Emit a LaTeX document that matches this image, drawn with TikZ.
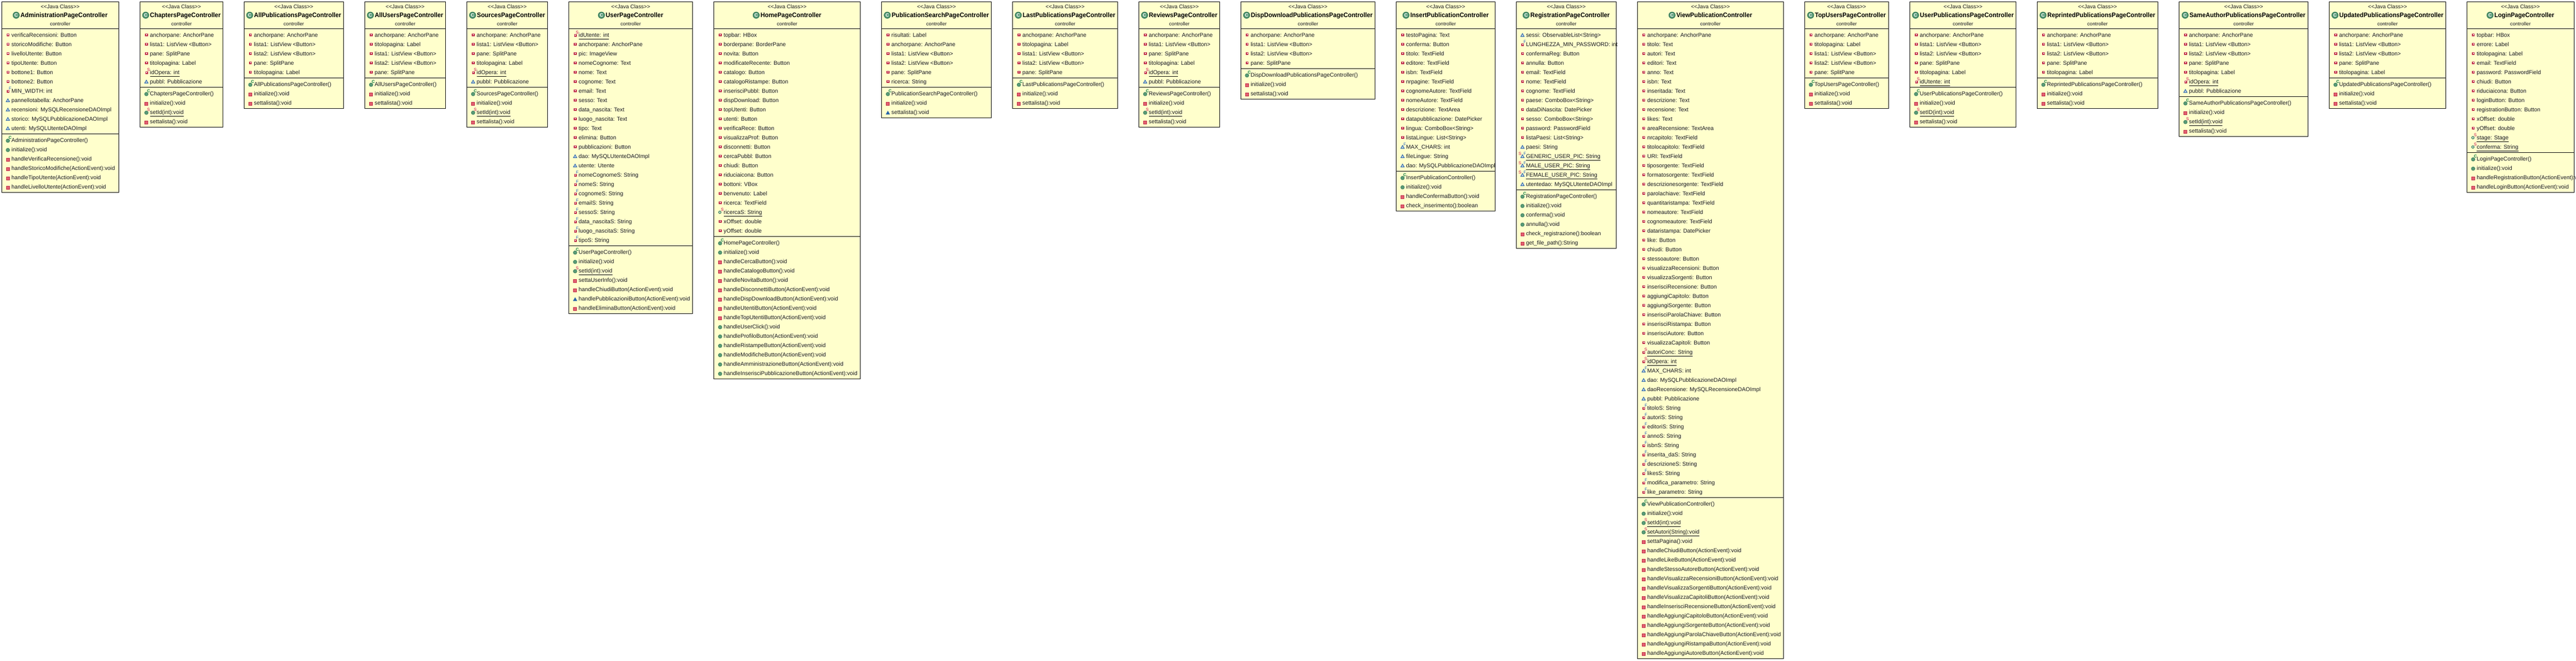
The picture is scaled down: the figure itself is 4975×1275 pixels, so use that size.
\documentclass[tikz,border=0pt]{standalone}
\usepackage{fontspec}
\usepackage{graphicx}
\setmainfont{Liberation Sans}
\definecolor{boxfill}{RGB}{255,255,204}
\definecolor{inktext}{RGB}{24,24,32}
\definecolor{privred}{RGB}{190,40,70}
\definecolor{privfill}{RGB}{226,96,112}
\definecolor{pkgblue}{RGB}{40,100,170}
\definecolor{pubgreen}{RGB}{90,155,120}
\definecolor{pubdark}{RGB}{50,120,85}
\definecolor{tagC}{RGB}{10,120,60}
\definecolor{tagS}{RGB}{200,0,70}
\definecolor{tagF}{RGB}{40,100,190}
\newcommand{\titlefont}{\fontsize{12.6}{14}\selectfont\bfseries}
\tikzset{
  classbody/.style={draw=black,line width=1pt,fill=boxfill,inner sep=0pt,outer sep=0pt,anchor=north west},
  divider/.style={draw=black,line width=1pt},
  rowtext/.style={inner sep=0pt,outer sep=0pt,anchor=base west,text=inktext,font=\fontsize{10.8}{12}\selectfont},
  stereotext/.style={inner sep=0pt,outer sep=0pt,anchor=base,text=inktext,font=\fontsize{10.4}{12}\selectfont},
  pkgtext/.style={inner sep=0pt,outer sep=0pt,anchor=base,text=inktext,font=\fontsize{9.6}{12}\selectfont},
  titletext/.style={inner sep=0pt,outer sep=0pt,anchor=base,text=black,font=\titlefont},
  classicon/.style={circle,draw=pubdark,line width=1.2pt,fill=pubgreen,minimum size=12pt,inner sep=0pt,text=white,font=\fontsize{9}{9}\selectfont\bfseries},
  tagnode/.style={inner sep=0pt,outer sep=0pt,font=\fontsize{8}{8}\selectfont},
}
\newcounter{na}\newcounter{nm}\newcounter{rw}
% field / method marks, #1 = x of the box's left edge, #2 = y of the row centre
\newcommand{\mksq}[2]{\fill[privred] (#1+9.5,#2-2.8) rectangle (#1+15,#2+2.8);\fill[white!80!pink] (#1+11.2,#2-1.1) rectangle (#1+13.3,#2+1.1);}
\newcommand{\mksmall}[2]{\fill[privred] (#1+10,#2-1.8) rectangle (#1+15,#2+3.2);\fill[white!80!pink] (#1+11.5,#2-.3) rectangle (#1+13.5,#2+1.7);}
\newcommand{\mktri}[2]{\draw[pkgblue,fill=white!70!pkgblue,line width=1pt,line join=miter] (#1+8.8,#2+3) -- (#1+15.2,#2+3) -- (#1+12,#2-2.6) -- cycle;}
\newcommand{\mktagC}[2]{\node[tagnode,text=tagC] at (#1+16.4,#2-5) {\bfseries C};}
\newcommand{\mktagS}[2]{\node[tagnode,text=tagS] at (#1+16.2,#2-4.6) {S};}
\newcommand{\mktagF}[2]{\node[tagnode,text=tagF] at (#1+16.4,#2-5) {F};}
\newcommand{\iconpf}[2]{\mksq{#1}{#2}}
\newcommand{\iconps}[2]{\mksmall{#1}{#2}\mktagS{#1}{#2}}
\newcommand{\iconpF}[2]{\mksmall{#1}{#2}\mktagF{#1}{#2}}
\newcommand{\iconkf}[2]{\mktri{#1}{#2}}
\newcommand{\iconkF}[2]{\mktri{#1}{#2}\mktagF{#1}{#2}}
\newcommand{\iconksf}[2]{\mktri{#1}{#2}\mktagF{#1}{#2}\node[tagnode,text=tagS] at (#1+7.3,#2-4.6) {S};}
\newcommand{\iconus}[2]{\draw[pubdark,fill=white!70!pubgreen,line width=1.1pt] (#1+11.5,#2+.5) circle (2.4pt);\mktagS{#1}{#2}}
\newcommand{\iconum}[2]{\draw[pubdark,fill=pubgreen,line width=.7pt] (#1+12,#2+1) circle (3.5pt);}
\newcommand{\iconpm}[2]{\draw[privred,fill=privfill,line width=.8pt] (#1+9,#2-1.7) rectangle (#1+15,#2+4.3);}
\newcommand{\iconkm}[2]{\fill[pkgblue] (#1+8,#2+4.2) -- (#1+16,#2+4.2) -- (#1+12,#2-2.8) -- cycle;}
\newcommand{\iconco}[2]{\iconum{#1}{#2}\mktagC{#1}{#2}}
\newcommand{\iconms}[2]{\iconum{#1}{#2}\mktagS{#1}{#2}}
\def\ulps{}\def\ulksf{}\def\ulus{}\def\ulms{}
\newcommand{\putrows}[3]{% #1 box id, #2 y of compartment top, #3 list; uses \xzero
  \foreach \kd/\txt [count=\ii from 0] in {#3}{%
    \stepcounter{rw}%
    \pgfmathsetmacro{\yy}{#2+12.3+18*\ii}%
    \csname icon\kd\endcsname{\xzero}{\yy}%
    \node[rowtext] (r\arabic{rw}) at (\xzero+19,\yy+3.9) {\txt};%
    \ifcsname ul\kd\endcsname
      \draw[black,line width=.8pt] ([yshift=-3.9pt]r\arabic{rw}.base west) -- ([yshift=-3.9pt]r\arabic{rw}.base east);%
    \fi
  }%
}
\newcommand{\classbox}[7]{% id, x0, x1, title, title width, fields, methods
  \setcounter{na}{0}\setcounter{nm}{0}%
  \foreach \kd/\txt in {#6}{\stepcounter{na}}%
  \foreach \kd/\txt in {#7}{\stepcounter{nm}}%
  \def\xzero{#2}%
  \pgfmathsetmacro{\yfields}{55+18*\value{na}+5.3}%
  \pgfmathsetmacro{\ybottom}{\yfields+18*\value{nm}+5.3}%
  \pgfmathsetmacro{\bw}{#3-#2}%
  \pgfmathsetmacro{\bh}{\ybottom-3.5}%
  \pgfmathsetmacro{\bc}{(#2+#3)/2}%
  \node[classbody,minimum width=\bw pt,minimum height=\bh pt] (#1) at (#2,3.5) {};%
  \draw[divider] (#2,55) -- (#3,55);%
  \draw[divider] (#2,\yfields) -- (#3,\yfields);%
  \node[stereotext] (#1-s) at (\bc,16.8) {<{}<Java Class>{}>};%
  \node[titletext] (#1-t) at (\bc,33.8) {\hspace*{14.8pt}\resizebox{#5pt}{\height}{#4}};%
  \node[classicon] (#1-i) at ([xshift=6.4pt,yshift=4.5pt]#1-t.base west) {C};%
  \node[pkgtext] (#1-p) at (\bc,49.3) {controller};%
  \putrows{#1}{55}{#6}%
  \putrows{#1}{\yfields}{#7}%
}
\begin{document}
\begin{tikzpicture}[x=1pt,y=-1pt]
\fill[white] (0,0) rectangle (4975,1275);
\useasboundingbox (0,0) rectangle (4975,1275);
\classbox{admin}{3.2}{229.3}{AdministrationPageController}{168}
{pf/verificaRecensioni: Button,pf/storicoModifiche: Button,pf/livelloUtente: Button,pf/tipoUtente: Button,pf/bottone1: Button,pf/bottone2: Button,pF/MIN\_WIDTH: int,kf/pannellotabella: AnchorPane,kf/recensioni: MySQLRecensioneDAOImpl,kf/storico: MySQLPubblicazioneDAOImpl,kf/utenti: MySQLUtenteDAOImpl}
{co/AdministrationPageController(),um/initialize():void,pm/handleVerificaRecensione():void,pm/handleStoricoModifiche(ActionEvent):void,pm/handleTipoUtente(ActionEvent):void,pm/handleLivelloUtente(ActionEvent):void}
\classbox{chapters}{270.7}{430.4}{ChaptersPageController}{136.4}
{pf/anchorpane: AnchorPane,pf/lista1: ListView <Button>,pf/pane: SplitPane,pf/titolopagina: Label,ps/idOpera: int,kf/pubbl: Pubblicazione}
{co/ChaptersPageController(),pm/initialize():void,ms/setId(int):void,pm/settalista():void}
\classbox{allpub}{471.4}{663.3}{AllPublicationsPageController}{168.3}
{pf/anchorpane: AnchorPane,pf/lista1: ListView <Button>,pf/lista2: ListView <Button>,pf/pane: SplitPane,pf/titolopagina: Label}
{co/AllPublicationsPageController(),pm/initialize():void,pm/settalista():void}
\classbox{allusers}{704.7}{860.3}{AllUsersPageController}{132.3}
{pf/anchorpane: AnchorPane,pf/titolopagina: Label,pf/lista1: ListView <Button>,pf/lista2: ListView <Button>,pf/pane: SplitPane}
{co/AllUsersPageController(),pm/initialize():void,pm/settalista():void}
\classbox{sources}{901.7}{1057.3}{SourcesPageController}{131.6}
{pf/anchorpane: AnchorPane,pf/lista1: ListView <Button>,pf/pane: SplitPane,pf/titolopagina: Label,ps/idOpera: int,kf/pubbl: Pubblicazione}
{co/SourcesPageController(),pm/initialize():void,ms/setId(int):void,pm/settalista():void}
\classbox{user}{1098.7}{1337.3}{UserPageController}{111}
{ps/idUtente: int,pf/anchorpane: AnchorPane,pf/pic: ImageView,pf/nomeCognome: Text,pf/nome: Text,pf/cognome: Text,pf/email: Text,pf/sesso: Text,pf/data\_nascita: Text,pf/luogo\_nascita: Text,pf/tipo: Text,pf/elimina: Button,pf/pubblicazioni: Button,kf/dao: MySQLUtenteDAOImpl,kf/utente: Utente,pF/nomeCognomeS: String,pF/nomeS: String,pF/cognomeS: String,pF/emailS: String,pF/sessoS: String,pF/data\_nascitaS: String,pF/luogo\_nascitaS: String,pF/tipoS: String}
{co/UserPageController(),um/initialize():void,ms/setId(int):void,pm/settaUserInfo():void,pm/handleChiudiButton(ActionEvent):void,km/handlePubblicazioniButton(ActionEvent):void,pm/handleEliminaButton(ActionEvent):void}
\classbox{home}{1378.7}{1661.5}{HomePageController}{117.5}
{pf/topbar: HBox,pf/borderpane: BorderPane,pf/novita: Button,pf/modificateRecente: Button,pf/catalogo: Button,pf/catalogoRistampe: Button,pf/inserisciPubbl: Button,pf/dispDownload: Button,pf/topUtenti: Button,pf/utenti: Button,pf/verificaRece: Button,pf/visualizzaProf: Button,pf/disconnetti: Button,pf/cercaPubbl: Button,pf/chiudi: Button,pf/riduciaicona: Button,pf/bottoni: VBox,pf/benvenuto: Label,pf/ricerca: TextField,us/ricercaS: String,pf/xOffset: double,pf/yOffset: double}
{co/HomePageController(),um/initialize():void,pm/handleCercaButton():void,pm/handleCatalogoButton():void,pm/handleNovitaButton():void,pm/handleDisconnettiButton(ActionEvent):void,pm/handleDispDownloadButton(ActionEvent):void,pm/handleUtentiButton(ActionEvent):void,pm/handleTopUtentiButton(ActionEvent):void,um/handleUserClick():void,um/handleProfiloButton(ActionEvent):void,um/handleRistampeButton(ActionEvent):void,um/handleModificheButton(ActionEvent):void,um/handleAmministrazioneButton(ActionEvent):void,um/handleInserisciPubblicazioneButton(ActionEvent):void}
\classbox{search}{1702.7}{1914.5}{PublicationSearchPageController}{188}
{pf/risultati: Label,pf/anchorpane: AnchorPane,pf/lista1: ListView <Button>,pf/lista2: ListView <Button>,pf/pane: SplitPane,pf/ricerca: String}
{co/PublicationSearchPageController(),pm/initialize():void,km/settalista():void}
\classbox{lastpub}{1955.7}{2158.4}{LastPublicationsPageController}{178.9}
{pf/anchorpane: AnchorPane,pf/titolopagina: Label,pf/lista1: ListView <Button>,pf/lista2: ListView <Button>,pf/pane: SplitPane}
{co/LastPublicationsPageController(),pm/initialize():void,pm/settalista():void}
\classbox{reviews}{2199.6}{2355.6}{ReviewsPageController}{132.3}
{pf/anchorpane: AnchorPane,pf/lista1: ListView <Button>,pf/pane: SplitPane,pf/titolopagina: Label,ps/idOpera: int,kf/pubbl: Pubblicazione}
{co/ReviewsPageController(),pm/initialize():void,ms/setId(int):void,pm/settalista():void}
\classbox{disp}{2396.3}{2655.7}{DispDownloadPublicationsPageController}{235}
{pf/anchorpane: AnchorPane,pf/lista1: ListView <Button>,pf/lista2: ListView <Button>,pf/pane: SplitPane}
{co/DispDownloadPublicationsPageController(),pm/initialize():void,pm/settalista():void}
\classbox{insert}{2696.7}{2887.3}{InsertPublicationController}{151.3}
{pf/testoPagina: Text,pf/conferma: Button,pf/titolo: TextField,pf/editore: TextField,pf/isbn: TextField,pf/nrpagine: TextField,pf/cognomeAutore: TextField,pf/nomeAutore: TextField,pf/descrizione: TextArea,pf/datapubblicazione: DatePicker,pf/lingua: ComboBox<String>,pf/listaLingue: List<String>,kF/MAX\_CHARS: int,kf/fileLingue: String,kf/dao: MySQLPubblicazioneDAOImpl}
{co/InsertPublicationController(),um/initialize():void,pm/handleConfermaButton():void,pm/check\_inserimento():boolean}
\classbox{regist}{2928.3}{3121.3}{RegistrationPageController}{153}
{kf/sessi: ObservableList<String>,pF/LUNGHEZZA\_MIN\_PASSWORD: int,pf/confermaReg: Button,pf/annulla: Button,pf/email: TextField,pf/nome: TextField,pf/cognome: TextField,pf/paese: ComboBox<String>,pf/dataDiNascita: DatePicker,pf/sesso: ComboBox<String>,pf/password: PasswordField,pf/listaPaesi: List<String>,kf/paesi: String,ksf/GENERIC\_USER\_PIC: String,ksf/MALE\_USER\_PIC: String,ksf/FEMALE\_USER\_PIC: String,kf/utentedao: MySQLUtenteDAOImpl}
{co/RegistrationPageController(),um/initialize():void,um/conferma():void,um/annulla():void,pm/check\_registrazione():boolean,pm/get\_file\_path():String}
\classbox{view}{3162.3}{3444.3}{ViewPublicationController}{146.3}
{pf/anchorpane: AnchorPane,pf/titolo: Text,pf/autori: Text,pf/editori: Text,pf/anno: Text,pf/isbn: Text,pf/inseritada: Text,pf/descrizione: Text,pf/recensione: Text,pf/likes: Text,pf/areaRecensione: TextArea,pf/nrcapitolo: TextField,pf/titolocapitolo: TextField,pf/URI: TextField,pf/tiposorgente: TextField,pf/formatosorgente: TextField,pf/descrizionesorgente: TextField,pf/parolachiave: TextField,pf/quantitaristampa: TextField,pf/nomeautore: TextField,pf/cognomeautore: TextField,pf/dataristampa: DatePicker,pf/like: Button,pf/chiudi: Button,pf/stessoautore: Button,pf/visualizzaRecensioni: Button,pf/visualizzaSorgenti: Button,pf/inserisciRecensione: Button,pf/aggiungiCapitolo: Button,pf/aggiungiSorgente: Button,pf/inserisciParolaChiave: Button,pf/inserisciRistampa: Button,pf/inserisciAutore: Button,pf/visualizzaCapitoli: Button,ps/autoriConc: String,ps/idOpera: int,kF/MAX\_CHARS: int,kf/dao: MySQLPubblicazioneDAOImpl,kf/daoRecensione: MySQLRecensioneDAOImpl,kf/pubbl: Pubblicazione,pF/titoloS: String,pF/autoriS: String,pF/editoriS: String,pF/annoS: String,pF/isbnS: String,pF/inserita\_daS: String,pF/descrizioneS: String,pF/likesS: String,pF/modifica\_parametro: String,pF/like\_parametro: String}
{co/ViewPublicationController(),um/initialize():void,ms/setId(int):void,ms/setAutori(String):void,pm/settaPagina():void,pm/handleChiudiButton(ActionEvent):void,pm/handleLikeButton(ActionEvent):void,pm/handleStessoAutoreButton(ActionEvent):void,pm/handleVisualizzaRecensioniButton(ActionEvent):void,pm/handleVisualizzaSorgentiButton(ActionEvent):void,pm/handleVisualizzaCapitoliButton(ActionEvent):void,pm/handleInserisciRecensioneButton(ActionEvent):void,pm/handleAggiungiCapitoloButton(ActionEvent):void,pm/handleAggiungiSorgenteButton(ActionEvent):void,pm/handleAggiungiParolaChiaveButton(ActionEvent):void,pm/handleAggiungiRistampaButton(ActionEvent):void,pm/handleAggiungiAutoreButton(ActionEvent):void}
\classbox{topusers}{3485.3}{3647.3}{TopUsersPageController}{137}
{pf/anchorpane: AnchorPane,pf/titolopagina: Label,pf/lista1: ListView <Button>,pf/lista2: ListView <Button>,pf/pane: SplitPane}
{co/TopUsersPageController(),pm/initialize():void,pm/settalista():void}
\classbox{userpub}{3688.5}{3893.6}{UserPublicationsPageController}{181.3}
{pf/anchorpane: AnchorPane,pf/lista1: ListView <Button>,pf/lista2: ListView <Button>,pf/pane: SplitPane,pf/titolopagina: Label,ps/idUtente: int}
{co/UserPublicationsPageController(),pm/initialize():void,ms/setID(int):void,pm/settalista():void}
\classbox{reprinted}{3934.3}{4167.4}{ReprintedPublicationsPageController}{208.4}
{pf/anchorpane: AnchorPane,pf/lista1: ListView <Button>,pf/lista2: ListView <Button>,pf/pane: SplitPane,pf/titolopagina: Label}
{co/ReprintedPublicationsPageController(),pm/initialize():void,pm/settalista():void}
\classbox{sameauth}{4208.6}{4457.6}{SameAuthorPublicationsPageController}{224}
{pf/anchorpane: AnchorPane,pf/lista1: ListView <Button>,pf/lista2: ListView <Button>,pf/pane: SplitPane,pf/titolopagina: Label,ps/idOpera: int,kf/pubbl: Pubblicazione}
{co/SameAuthorPublicationsPageController(),pm/initialize():void,ms/setId(int):void,pm/settalista():void}
\classbox{updated}{4498.5}{4723.4}{UpdatedPublicationsPageController}{201}
{pf/anchorpane: AnchorPane,pf/lista1: ListView <Button>,pf/lista2: ListView <Button>,pf/pane: SplitPane,pf/titolopagina: Label}
{co/UpdatedPublicationsPageController(),pm/initialize():void,pm/settalista():void}
\classbox{login}{4764.3}{4971}{LoginPageController}{115.4}
{pf/topbar: HBox,pf/errore: Label,pf/titolopagina: Label,pf/email: TextField,pf/password: PasswordField,pf/chiudi: Button,pf/riduciaicona: Button,pf/loginButton: Button,pf/registrationButton: Button,pf/xOffset: double,pf/yOffset: double,us/stage: Stage,us/conferma: String}
{co/LoginPageController(),um/initialize():void,pm/handleRegistrationButton(ActionEvent):void,pm/handleLoginButton(ActionEvent):void}
\end{tikzpicture}
\end{document}
